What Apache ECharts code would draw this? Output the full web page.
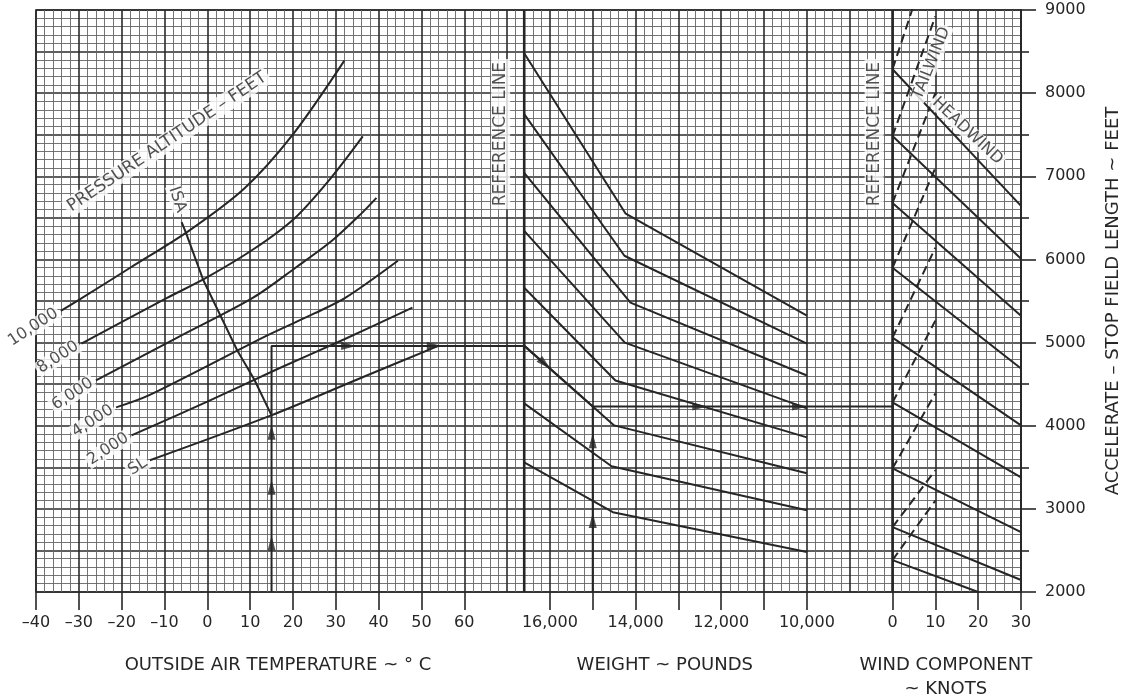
<!DOCTYPE html>
<html><head><meta charset="utf-8">
<script src="https://cdn.jsdelivr.net/npm/echarts@6/dist/echarts.min.js"></script>
<style>html,body{margin:0;padding:0;background:#fff}#c{width:1129px;height:696px}</style>
</head><body><div id="c"></div>
<script>
// ---------------- data ----------------
const tempTicks = [-40, -30, -20, -10, 0, 10, 20, 30, 40, 50, 60];
const weightTicks = [16000, 15000, 14000, 13000, 12000, 11000, 10000];
const weightLabels = [16000, 14000, 12000, 10000];
const windTicks = [0, 10, 20, 30];
const lengthTicks = [2000, 3000, 4000, 5000, 6000, 7000, 8000, 9000];

// pressure altitude curves: [OAT °C, distance ft]
const altitudeNames = ['10,000', '8,000', '6,000', '4,000', '2,000', 'SL'];
const alt10000 = [[-34.2, 5381], [-29.6, 5525], [-18.1, 5897], [-4.4, 6341], [8.7, 6856], [20.0, 7504], [32.0, 8391]];
const alt8000 = [[-29.4, 4986], [-9.4, 5537], [-0.3, 5777], [11.2, 6137], [20.4, 6496], [28.8, 6976], [36.3, 7480]];
const alt6000 = [[-26.0, 4544], [-7.0, 5060], [10.7, 5540], [20.6, 5900], [29.1, 6224], [35.9, 6548], [39.5, 6740]];
const alt4000 = [[-21.3, 4220], [-13.7, 4364], [13.9, 5084], [25.0, 5350], [32.3, 5540], [44.5, 5984]];
const alt2000 = [[-17.7, 3884], [0, 4290], [16.4, 4682], [32.0, 5040], [47.9, 5420]];
const altSL = [[-13.4, 3584], [14.9, 4124], [35.0, 4556], [54.1, 4964]];
const isaLine = [[-6.0, 6450], [-5, 6322], [-1, 5759], [3, 5331], [7, 4904], [11, 4553], [15, 4124]];

// weight guide lines: start on reference line, kink, end at 10,000 lb
const refWeight = 16600;
const refTemp = 74;          // same reference line on the temperature scale
const refWindWeight = 8000;  // wind reference line on the weight scale
const weightGuideStart = [8480, 7748, 7040, 6344, 5660, 4964, 4268, 3560];
const weightGuideKink = [[14230, 6550], [14260, 6044], [14120, 5480], [14250, 5000], [14470, 4544], [14500, 4004], [14560, 3512], [14530, 2960]];
const weightGuideEnd = [5324, 4988, 4604, 4208, 3860, 3428, 2984, 2480];

// wind guide lines
const headwindStart = [8288, 7484, 6680, 5900, 5060, 4280, 3488, 2780, 2384];
const headwindEnd = [[30, 6644], [30, 6008], [30, 5324], [30, 4688], [30, 4004], [30, 3380], [30, 2720], [30, 2144], [20, 2000]];
const tailwindStart = [8288, 7484, 6680, 5900, 5060, 4280, 3488, 2780, 2384];
const tailwindEnd = [[10, 9848], [10, 8924], [10, 8000], [10, 7100], [10, 6140], [10, 5264], [10, 4388], [10, 3464], [10, 3100]];

// worked example
const exTemp = 15, exTransferFt = 4960, exWeight = 15000, exResultFt = 4230;
const exArrowsTemp = [[15, 2590, 'up'], [15, 3260, 'up'], [15, 3920, 'up'], [33, 4960, 'right'], [53, 4960, 'right']];
const exArrowsWeight = [[16150, 4760, 'diag'], [15000, 2860, 'up'], [15000, 3820, 'up'], [12500, 4230, 'right'], [10170, 4230, 'right']];

// ---------------- layout ----------------
const CW = 1129, CH = 696;
const PL = 36, PR = 1021, PT = 10, PB = 592;
const COLS = 23, U = (PR - PL) / COLS;
function panel(k0, k1) {
  return { left: PL + k0 * U, right: CW - (PL + k1 * U), top: PT, bottom: CH - PB, outerBoundsMode: 'none', containLabel: false };
}
const ink = '#262626';
const FF = 'DejaVu Sans';
const ARROWS = {
  up: { symbol: 'path://M5,0 L10,16 L0,16 Z', size: [8, 15] },
  right: { symbol: 'path://M16,5 L0,0 L0,10 Z', size: [15, 8] },
  diag: { symbol: 'path://M14,13.3 L0.3,5.9 L5.9,0.1 Z', size: [14, 13] }
};

function lineSeries(xi, yi, data, extra) {
  return Object.assign({
    type: 'line', xAxisIndex: xi, yAxisIndex: yi, data: data, symbol: 'none', showSymbol: false,
    silent: true, animation: false, z: 3, lineStyle: { color: ink, width: 2 }
  }, extra || {});
}
function textSeries(xi, yi, x, y, text, rotate, extra) {
  return {
    type: 'scatter', xAxisIndex: xi, yAxisIndex: yi, clip: false, silent: true, animation: false, z: 8,
    symbolSize: 1, itemStyle: { color: 'rgba(0,0,0,0)' }, data: [[x, y]],
    label: Object.assign({
      show: true, formatter: text, rotate: rotate, position: 'inside', color: ink,
      fontFamily: FF, fontSize: 17, backgroundColor: '#fff', padding: [1, 3]
    }, extra || {})
  };
}
function arrowSeries(xi, yi, arr) {
  return {
    type: 'scatter', xAxisIndex: xi, yAxisIndex: yi, clip: false, silent: true, animation: false, z: 7,
    itemStyle: { color: ink },
    data: arr.map(a => ({ value: [a[0], a[1]], symbol: ARROWS[a[2]].symbol, symbolSize: ARROWS[a[2]].size }))
  };
}
const hiddenY = i => ({ type: 'value', gridIndex: i, min: 2000, max: 9000, show: false });
const tickLabelStyle = { color: ink, fontFamily: FF, fontSize: 16 };
const nameStyle = { color: ink, fontFamily: FF, fontSize: 18, lineHeight: 24 };
const bottomTick = { show: true, inside: false, length: 18, lineStyle: { color: ink, width: 1.6 } };

const series = [];
const altCurves = [alt10000, alt8000, alt6000, alt4000, alt2000, altSL];
altCurves.forEach((c, i) => {
  series.push(lineSeries(1, 2, c, { smooth: 0.3 }));
  series.push(textSeries(1, 2, c[0][0], c[0][1], altitudeNames[i], 33,
    { position: 'left', distance: 2, padding: [0, 2], fontSize: 16 }));
});
series.push(lineSeries(1, 2, isaLine));
series.push(textSeries(1, 2, -9.4, 7412, 'PRESSURE ALTITUDE – FEET', 34));
series.push(textSeries(1, 2, -7.0, 6720, 'ISA', -71, { padding: [0, 2], fontSize: 16 }));

// reference lines
series.push(lineSeries(2, 3, [[refWeight, 2000], [refWeight, 9000]], { clip: false, lineStyle: { color: ink, width: 2.6 } }));
series.push(lineSeries(3, 4, [[0, 2000], [0, 9000]], { clip: false, lineStyle: { color: ink, width: 2.6 } }));
series.push(textSeries(2, 3, 17150, 7508, 'REFERENCE LINE', 90));
series.push(textSeries(3, 4, -4.3, 7508, 'REFERENCE LINE', 90));

// weight guide lines
weightGuideStart.forEach((s, i) => {
  series.push(lineSeries(2, 3, [[refWeight, s], weightGuideKink[i], [10000, weightGuideEnd[i]]]));
});

// wind guide lines
headwindStart.forEach((s, i) => {
  series.push(lineSeries(3, 4, [[0, s], headwindEnd[i]]));
});
tailwindStart.forEach((s, i) => {
  series.push(lineSeries(3, 4, [[0, s], tailwindEnd[i]], { lineStyle: { color: ink, width: 2, type: [9, 5] } }));
});
series.push(textSeries(3, 4, 9.1, 8360, 'TAILWIND', 68, { padding: [0, 2], fontSize: 16 }));
series.push(textSeries(3, 4, 17.5, 7544, 'HEADWIND', -43, { padding: [0, 2], fontSize: 16 }));

// worked example
series.push(lineSeries(1, 2, [[exTemp, 2000], [exTemp, exTransferFt], [refTemp, exTransferFt]]));
series.push(lineSeries(2, 3, [[refWeight, exTransferFt], [exWeight, exResultFt]]));
series.push(lineSeries(2, 3, [[exWeight, 2000], [exWeight, exResultFt], [refWindWeight, exResultFt]]));
series.push(arrowSeries(1, 2, exArrowsTemp));
series.push(arrowSeries(2, 3, exArrowsWeight));

const option = {
  animation: false,
  backgroundColor: '#fff',
  grid: [
    Object.assign(panel(0, 23), { show: true, borderColor: ink, borderWidth: 1.6, backgroundColor: 'transparent' }),
    panel(0, 12),   // temperature -40 .. 80
    panel(11, 20),  // weight 17,000 .. 8,000
    panel(20, 23)   // wind 0 .. 30
  ],
  xAxis: [
    { type: 'value', gridIndex: 0, min: 0, max: COLS, interval: 1,
      axisLine: { show: false }, axisTick: { show: false }, axisLabel: { show: false },
      splitLine: { show: true, lineStyle: { color: '#2a2a2a', width: 1.6 } },
      minorTick: { show: false, splitNumber: 5 },
      minorSplitLine: { show: true, lineStyle: { color: '#646464', width: 0.9 } } },
    { type: 'value', gridIndex: 1, min: -40, max: 80, interval: 10,
      axisLine: { show: false }, splitLine: { show: false },
      axisTick: { ...bottomTick, customValues: tempTicks },
      axisLabel: { ...tickLabelStyle, margin: 23, customValues: tempTicks,
        formatter: v => v < 0 ? '–' + Math.abs(v) : String(v) },
      name: 'OUTSIDE AIR TEMPERATURE ~ ° C', nameLocation: 'middle', nameGap: 61,
      nameTextStyle: { ...nameStyle, padding: [0, 30, 0, 0] } },
    { type: 'value', gridIndex: 2, inverse: true, min: 8000, max: 17000, interval: 1000,
      axisLine: { show: false }, splitLine: { show: false },
      axisTick: { ...bottomTick, customValues: weightTicks },
      axisLabel: { ...tickLabelStyle, margin: 23, customValues: weightLabels,
        formatter: v => v.toLocaleString('en-US') },
      name: 'WEIGHT ~ POUNDS', nameLocation: 'middle', nameGap: 61,
      nameTextStyle: { ...nameStyle, padding: [0, 70, 0, 0] } },
    { type: 'value', gridIndex: 3, min: windTicks[0], max: windTicks[windTicks.length - 1], interval: 10,
      axisLine: { show: false }, splitLine: { show: false },
      axisTick: { ...bottomTick },
      axisLabel: { ...tickLabelStyle, margin: 23, formatter: v => String(v) },
      name: 'WIND COMPONENT\n~ KNOTS', nameLocation: 'middle', nameGap: 61,
      nameTextStyle: { ...nameStyle, padding: [0, 22, 0, 0] } }
  ],
  yAxis: [
    { type: 'value', gridIndex: 0, min: 2000, max: 9000, interval: 500,
      axisLine: { show: false }, axisTick: { show: false }, axisLabel: { show: false },
      splitLine: { show: true, lineStyle: { color: '#2a2a2a', width: 1.6 } },
      minorTick: { show: false, splitNumber: 5 },
      minorSplitLine: { show: true, lineStyle: { color: '#646464', width: 0.9 } } },
    { type: 'value', gridIndex: 0, position: 'right', min: lengthTicks[0], max: lengthTicks[lengthTicks.length - 1], interval: 1000,
      axisLine: { show: true, lineStyle: { color: ink, width: 1.6 } },
      axisTick: { show: true, inside: false, length: 15, lineStyle: { color: ink, width: 1.6 } },
      minorTick: { show: true, splitNumber: 2, length: 8, lineStyle: { color: ink, width: 1.6 } },
      splitLine: { show: false },
      axisLabel: { ...tickLabelStyle, margin: 24, formatter: v => String(v) },
      name: 'ACCELERATE – STOP FIELD LENGTH ~ FEET', nameLocation: 'middle', nameRotate: 90, nameGap: 80,
      nameTextStyle: { ...nameStyle } },
    hiddenY(1), hiddenY(2), hiddenY(3)
  ],
  series: series
};
const chart = echarts.init(document.getElementById('c'), null, { renderer: 'canvas' });
chart.setOption(option);
</script>
</body></html>
